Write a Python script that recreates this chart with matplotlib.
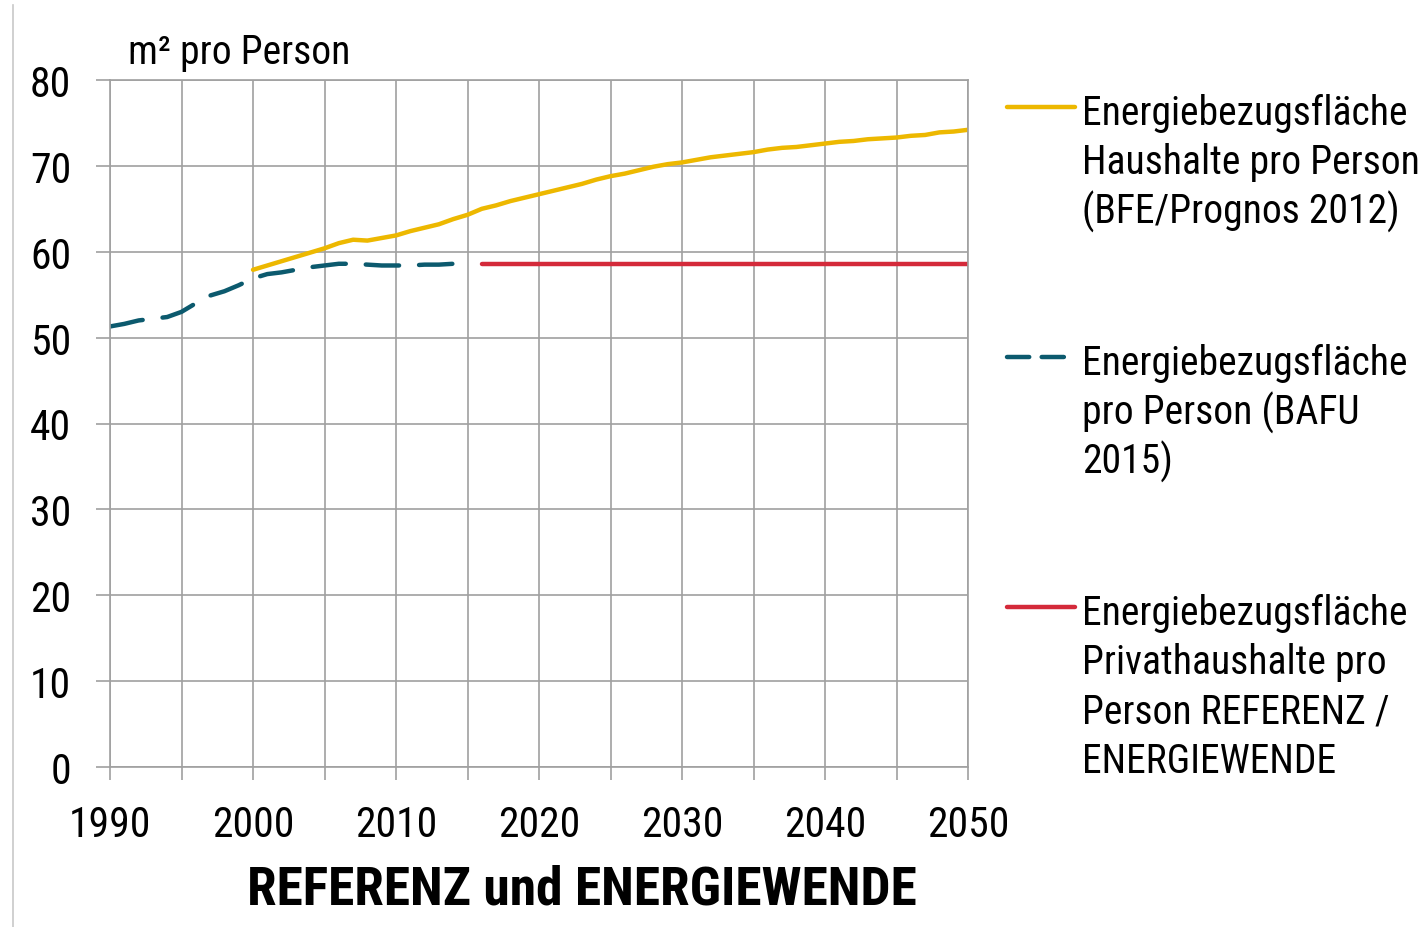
import matplotlib
matplotlib.use('Agg')
import matplotlib.pyplot as plt
from matplotlib.lines import Line2D

# Energiebezugsflaeche Haushalte pro Person (BFE/Prognos 2012)
bfe_years = list(range(2000, 2051))
bfe_vals = [57.9, 58.4, 58.9, 59.4, 59.9, 60.4, 61.0, 61.4, 61.3, 61.6,
            61.9, 62.4, 62.8, 63.2, 63.8, 64.3, 65.0, 65.4, 65.9, 66.3,
            66.7, 67.1, 67.5, 67.9, 68.4, 68.8, 69.1, 69.5, 69.9, 70.2,
            70.4, 70.7, 71.0, 71.2, 71.4, 71.6, 71.9, 72.1, 72.2, 72.4,
            72.6, 72.8, 72.9, 73.1, 73.2, 73.3, 73.5, 73.6, 73.9, 74.0,
            74.2]

# Energiebezugsflaeche pro Person (BAFU 2015)
bafu_years = list(range(1990, 2016))
bafu_vals = [51.3, 51.6, 52.0, 52.2, 52.4, 53.0, 54.0, 54.9, 55.4, 56.1,
             56.9, 57.4, 57.6, 57.9, 58.2, 58.4, 58.6, 58.6, 58.5, 58.4,
             58.4, 58.4, 58.5, 58.5, 58.6, 58.8]

# Privathaushalte REFERENZ / ENERGIEWENDE
ref_years = [2016, 2050]
ref_vals = [58.6, 58.6]

labels = ['Energiebezugsfläche\nHaushalte pro Person\n(BFE/Prognos 2012)',
          'Energiebezugsfläche\npro Person (BAFU\n2015)',
          'Energiebezugsfläche\nPrivathaushalte pro\nPerson REFERENZ /\nENERGIEWENDE']

c_yellow = '#EDB800'
c_teal = '#0C5A6E'
c_red = '#D42A3A'
c_grid = '#A0A0A0'

plt.rcParams['font.family'] = ['Roboto Condensed', 'Liberation Sans', 'DejaVu Sans']

W, H = 1424, 928
fig = plt.figure(figsize=(W / 100, H / 100), dpi=100)

def fx(px):
    return px / W

def fy(py):
    return 1 - py / H

ax = fig.add_axes([fx(110), fy(768), fx(968) - fx(110), fy(81) - fy(768)])

lw = 3.2
ax.plot(bfe_years, bfe_vals, color=c_yellow, lw=lw, solid_capstyle='round')
ax.plot(bafu_years, bafu_vals, color=c_teal, lw=lw, dashes=(7.5, 4.5),
        dash_capstyle='round')
ax.plot(ref_years, ref_vals, color=c_red, lw=lw, solid_capstyle='round')

ax.set_xlim(1990, 2050)
ax.set_ylim(0, 80)
ax.set_xticks(range(1990, 2051, 10))
ax.set_xticks(range(1995, 2050, 10), minor=True)
ax.set_yticks(range(0, 81, 10))
ax.grid(True, which='both', color=c_grid, lw=1.2)
ax.set_axisbelow(True)
for s in ax.spines.values():
    s.set_color(c_grid)
    s.set_linewidth(1.2)
ax.tick_params(axis='x', which='both', direction='out', length=9, width=1.2,
               color=c_grid, pad=18, labelsize=30)
ax.tick_params(axis='y', direction='out', length=10, width=1.2,
               color=c_grid, pad=18, labelsize=30)

fig.text(fx(128), fy(53), 'm² pro Person', fontsize=28.5, va='center', ha='left')
fig.text(fx(582), fy(890), 'REFERENZ und ENERGIEWENDE', fontsize=38.5,
         fontweight='bold', ha='center', va='center')

# legend drawn by hand, entries sit far apart
leg_y = [108, 358, 608]
styles = [dict(color=c_yellow), dict(color=c_teal, dashes=(5, 2.8)),
          dict(color=c_red)]
for y, lab, st in zip(leg_y, labels, styles):
    fig.add_artist(Line2D([fx(1007), fx(1075)], [fy(y), fy(y)], lw=lw,
                          solid_capstyle='round', dash_capstyle='round', **st))
    for k, line in enumerate(lab.split('\n')):
        fig.text(fx(1082), fy(y + 17 + 49.5 * k), line, fontsize=28.5,
                 ha='left', va='baseline')

# thin frame line on the left edge
fig.add_artist(Line2D([fx(12.5), fx(12.5)], [fy(6), 0], color='#C8C8C8', lw=1.2))

fig.savefig('out.png', dpi=100)
